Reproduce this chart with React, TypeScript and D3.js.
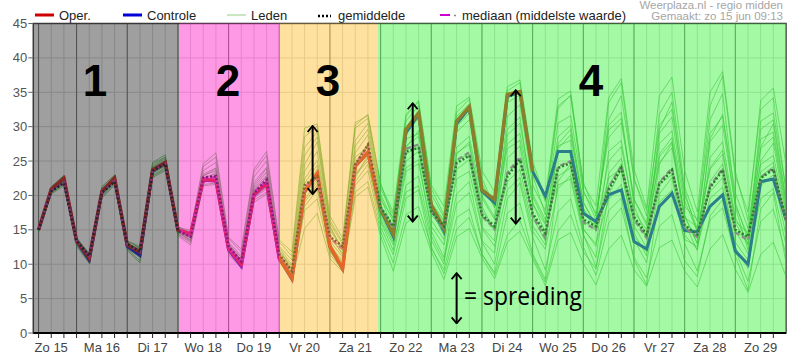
import * as d3 from "d3";

// forecast hours after Sun 15 Jun 00:00, one point every 6 hours
const hours = d3.range(6, 361, 6);

const oper = [
  15.0, 20.9, 22.5, 13.4, 10.9, 20.6, 22.5, 12.8, 11.8, 23.7, 24.8,
  15.0, 14.4, 22.3, 22.2, 12.3, 10.0, 20.1, 21.8, 10.9,
  8.0, 20.6, 23.2, 12.6, 9.4, 24.3, 26.3, 18.0,
  14.4, 29.6, 32.0, 18.6, 15.2, 30.8, 32.9, 20.8, 19.4, 34.7, 35.1, 23.5,
];

const controle = [
  15.0, 20.8, 22.4, 13.3, 10.6, 20.5, 22.4, 12.6, 11.3, 23.6, 24.7,
  15.0, 14.3, 22.2, 22.1, 12.1, 9.7, 20.0, 21.7, 10.8,
  7.8, 20.5, 23.1, 12.5, 9.3, 24.2, 26.2, 17.9,
  14.0, 29.1, 31.8, 18.4, 14.8, 30.4, 32.7, 20.6, 18.9, 34.4, 35.0, 23.5,
  19.9, 26.4, 26.4, 17.4, 16.2, 20.1, 20.8, 13.3, 12.2, 18.4, 20.3, 14.9,
  14.7, 18.4, 20.1, 11.9, 10.0, 22.0, 22.4, 16.5,
];

const gemiddelde = [
  15.0, 20.6, 21.8, 13.4, 11.2, 20.4, 22.0, 13.0, 11.8, 23.6, 24.6,
  14.9, 14.0, 22.6, 22.8, 12.6, 10.4, 20.3, 22.3, 11.4,
  9.0, 21.5, 22.8, 14.0, 12.6, 24.5, 27.4, 18.3,
  15.5, 26.4, 26.9, 17.7, 15.5, 24.7, 25.8, 17.2, 15.5, 22.8, 25.2, 17.4,
  14.5, 24.0, 24.7, 16.5, 15.5, 20.8, 24.0, 16.9, 14.3, 21.6, 23.7, 15.7,
  14.3, 21.1, 23.7, 15.0, 14.0, 22.5, 23.8, 16.5,
];

const mediaan = [
  15.0, 20.7, 21.9, 13.4, 11.1, 20.5, 22.1, 12.9, 11.8, 23.6, 24.6,
  14.9, 14.1, 22.5, 22.7, 12.5, 10.3, 20.4, 22.2, 11.3,
  8.9, 21.3, 22.6, 13.8, 12.2, 24.4, 27.2, 18.2,
  15.3, 26.8, 27.4, 17.6, 15.0, 25.1, 26.3, 17.0, 15.1, 23.3, 25.6, 17.0,
  13.8, 24.2, 25.0, 16.1, 15.0, 21.2, 24.3, 16.5, 13.8, 21.9, 24.0, 15.3,
  13.9, 21.4, 23.9, 14.6, 13.5, 22.6, 24.0, 16.2,
];

const leden = [
  [15.1, 20.7, 22.3, 13.6, 11.2, 20.9, 22.8, 13.1, 12.0, 23.9, 25.1, 14.8, 14.0, 23.1, 24.0, 13.0, 10.6, 21.5, 23.9, 12.1, 9.2, 24.5, 27.8, 15.3, 12.1, 28.0, 30.5, 20.2, 16.1, 31.5, 33.8, 21.0, 17.2, 32.1, 34.0, 22.5, 18.3, 35.2, 36.4, 24.0, 19.1, 33.0, 34.5, 20.8, 16.4, 30.2, 32.1, 18.5, 14.0, 29.5, 33.6, 20.0, 15.2, 31.0, 34.8, 19.0, 13.5, 30.8, 32.0, 21.0],
  [14.9, 20.5, 22.0, 13.2, 10.6, 20.2, 22.1, 12.5, 11.5, 23.2, 24.4, 14.6, 13.5, 21.8, 22.6, 11.9, 9.8, 19.6, 21.0, 10.8, 8.3, 19.0, 21.5, 11.8, 9.6, 22.0, 24.5, 16.2, 12.0, 21.5, 22.8, 14.1, 10.5, 18.8, 20.4, 13.2, 10.0, 19.5, 21.8, 14.0, 9.2, 17.6, 19.5, 12.5, 8.4, 16.0, 18.2, 11.0, 8.0, 15.5, 17.2, 10.5, 8.2, 17.0, 19.4, 12.0, 7.5, 16.2, 18.0, 11.5],
  [15.0, 21.0, 22.6, 13.5, 11.0, 20.5, 22.4, 12.9, 11.9, 23.8, 24.9, 15.2, 14.1, 22.6, 23.1, 12.8, 10.3, 20.8, 22.6, 11.5, 9.0, 21.2, 23.0, 13.9, 11.6, 24.8, 27.5, 18.4, 15.5, 26.0, 27.1, 17.2, 15.0, 25.2, 26.0, 17.0, 15.1, 23.0, 25.4, 17.2, 14.2, 24.1, 25.0, 16.3, 15.0, 21.4, 24.6, 16.5, 14.0, 22.0, 23.9, 15.5, 14.1, 21.0, 24.0, 14.6, 13.8, 22.8, 24.2, 16.0],
  [15.2, 21.2, 22.9, 13.8, 11.5, 21.3, 22.9, 13.3, 12.4, 24.6, 25.6, 15.3, 14.7, 24.2, 25.6, 13.7, 11.8, 23.4, 25.8, 13.2, 11.2, 28.5, 30.1, 16.4, 13.2, 29.8, 31.2, 21.0, 17.2, 30.8, 33.1, 20.2, 16.8, 31.5, 33.3, 21.8, 18.2, 27.5, 29.0, 19.8, 16.0, 28.5, 30.2, 19.0, 15.5, 33.5, 36.4, 22.5, 17.0, 26.0, 28.4, 17.1, 13.0, 27.8, 30.2, 18.6, 14.1, 26.8, 28.5, 18.2],
  [14.8, 20.4, 21.6, 12.8, 10.3, 19.8, 21.7, 12.2, 10.5, 22.8, 23.8, 14.3, 13.1, 21.6, 21.8, 11.7, 9.6, 19.3, 20.5, 10.6, 8.0, 17.8, 19.5, 11.4, 9.2, 20.5, 22.0, 14.8, 10.2, 17.2, 18.4, 12.6, 8.6, 15.1, 16.8, 11.5, 8.4, 14.2, 16.4, 11.2, 7.4, 14.8, 17.2, 11.8, 9.3, 20.1, 23.8, 14.6, 11.2, 24.5, 27.6, 17.0, 13.0, 28.2, 31.8, 18.3, 12.1, 27.0, 30.4, 19.1],
  [15.0, 20.8, 22.2, 13.3, 11.4, 20.6, 22.2, 12.6, 11.2, 23.3, 24.5, 14.9, 13.8, 22.9, 23.6, 12.4, 10.8, 21.9, 24.1, 11.9, 9.7, 22.4, 25.1, 14.9, 12.5, 26.2, 28.8, 19.3, 16.8, 28.2, 29.0, 18.8, 16.1, 27.0, 28.6, 19.6, 16.5, 26.8, 28.0, 18.7, 15.8, 27.2, 28.0, 17.5, 15.4, 25.0, 27.1, 17.6, 15.0, 24.8, 26.9, 16.8, 15.4, 24.0, 26.6, 16.2, 14.6, 24.5, 25.8, 17.3],
  [15.1, 21.1, 22.7, 13.7, 11.6, 21.0, 22.6, 13.0, 12.2, 24.1, 25.3, 15.5, 14.5, 23.6, 24.8, 13.2, 11.2, 22.7, 25.0, 12.6, 10.6, 27.0, 29.2, 16.0, 12.9, 30.2, 31.8, 21.5, 17.6, 31.8, 33.6, 21.5, 18.4, 33.0, 34.3, 23.6, 20.5, 35.8, 36.8, 25.0, 19.5, 34.0, 35.2, 21.5, 18.5, 34.2, 37.0, 23.8, 18.2, 34.5, 37.2, 23.6, 17.6, 35.0, 38.0, 23.5, 16.4, 33.8, 35.6, 24.5],
  [14.7, 20.2, 21.4, 12.6, 10.1, 19.6, 21.5, 12.0, 10.2, 22.6, 23.6, 14.1, 12.8, 21.4, 21.6, 11.4, 9.4, 19.0, 20.2, 10.4, 7.8, 15.2, 17.4, 10.8, 8.9, 19.8, 21.2, 14.1, 9.0, 16.0, 17.2, 11.8, 7.8, 14.0, 15.2, 10.9, 7.9, 13.2, 14.8, 10.8, 6.9, 13.5, 14.6, 10.1, 7.0, 12.2, 14.2, 9.2, 6.8, 12.4, 13.5, 9.0, 6.7, 12.2, 14.3, 9.3, 5.9, 11.4, 13.2, 8.2],
  [15.0, 20.9, 22.4, 13.4, 10.8, 20.7, 22.6, 12.9, 11.6, 23.6, 24.7, 15.1, 14.3, 22.4, 22.5, 12.4, 10.2, 20.4, 22.2, 11.2, 8.4, 21.0, 23.8, 13.0, 10.2, 25.6, 27.0, 18.2, 14.6, 29.0, 31.2, 18.2, 15.0, 30.0, 32.0, 20.5, 19.0, 33.5, 34.6, 23.0, 17.2, 30.5, 31.6, 20.5, 17.4, 28.4, 30.6, 19.5, 16.0, 27.5, 29.4, 18.4, 16.5, 29.0, 31.5, 20.4, 15.2, 28.2, 29.2, 18.8],
  [14.9, 20.6, 22.1, 13.1, 10.9, 20.3, 22.0, 12.7, 11.6, 23.4, 24.2, 14.7, 13.6, 22.0, 22.4, 12.1, 10.1, 20.0, 21.4, 11.0, 8.6, 19.4, 22.0, 12.4, 10.6, 23.1, 25.4, 17.0, 13.2, 23.5, 24.6, 15.5, 12.8, 22.4, 23.5, 15.2, 12.6, 20.8, 22.6, 14.8, 12.2, 21.0, 22.9, 15.0, 13.0, 19.4, 21.6, 14.0, 11.8, 19.0, 20.8, 13.6, 12.6, 19.6, 21.2, 13.2, 10.6, 19.5, 21.0, 12.8],
  [15.0, 20.8, 22.5, 13.5, 11.1, 20.8, 22.7, 13.1, 11.9, 24.0, 25.0, 15.0, 14.2, 22.8, 23.9, 12.9, 11.0, 21.2, 23.4, 11.7, 9.4, 23.5, 26.4, 14.4, 11.3, 27.2, 29.6, 19.8, 15.0, 24.0, 25.2, 14.8, 11.0, 20.2, 22.0, 13.4, 11.6, 25.4, 27.2, 16.8, 13.4, 26.8, 28.8, 19.0, 15.8, 31.0, 34.5, 22.4, 17.8, 30.2, 32.5, 20.6, 14.6, 23.8, 26.0, 16.0, 12.8, 25.0, 27.6, 17.6],
  [15.1, 20.6, 22.3, 13.2, 11.3, 20.1, 21.9, 12.5, 12.5, 24.3, 25.5, 14.6, 13.9, 22.2, 23.4, 12.7, 10.5, 21.0, 22.9, 12.4, 9.9, 25.8, 28.5, 15.6, 12.0, 23.0, 25.0, 16.5, 12.8, 20.5, 21.4, 13.5, 10.0, 23.8, 25.2, 15.4, 13.4, 28.8, 30.5, 20.2, 16.5, 21.5, 22.4, 14.2, 11.0, 23.2, 25.4, 15.6, 12.4, 29.0, 31.4, 19.2, 14.8, 20.5, 22.6, 12.4, 9.4, 21.4, 23.0, 14.2],
  [14.9, 20.3, 21.9, 13.0, 10.5, 20.0, 21.8, 12.3, 11.0, 23.0, 24.0, 14.4, 13.3, 21.9, 22.8, 12.0, 9.7, 19.8, 21.2, 10.7, 8.1, 18.4, 20.8, 12.0, 9.0, 21.5, 23.6, 15.4, 11.4, 19.6, 20.8, 12.2, 9.2, 16.8, 18.0, 11.4, 8.8, 17.4, 18.9, 11.5, 7.8, 22.0, 24.6, 14.4, 9.6, 17.8, 19.6, 10.6, 7.0, 20.2, 22.6, 13.0, 9.0, 16.4, 18.2, 11.2, 6.2, 18.0, 20.4, 10.2],
  [15.2, 21.3, 22.9, 13.9, 11.4, 21.2, 23.0, 13.4, 12.6, 24.8, 25.9, 15.4, 14.9, 24.6, 26.2, 13.9, 12.2, 23.8, 26.4, 13.5, 11.8, 29.8, 30.4, 17.0, 13.8, 30.6, 31.6, 21.8, 16.4, 27.2, 28.6, 17.8, 14.2, 26.0, 27.8, 18.4, 14.8, 31.5, 33.2, 21.5, 17.8, 32.6, 34.6, 22.0, 17.0, 29.5, 31.2, 19.4, 15.6, 31.8, 35.0, 21.2, 16.2, 33.0, 37.4, 22.8, 17.6, 32.5, 34.2, 20.5],
  [14.8, 20.5, 22.0, 13.1, 10.4, 20.4, 22.3, 12.7, 11.4, 23.5, 24.5, 14.7, 13.4, 22.1, 22.9, 12.2, 10.1, 20.6, 22.7, 11.3, 8.6, 20.2, 22.3, 13.4, 11.0, 22.6, 25.8, 17.6, 14.0, 27.0, 29.4, 19.0, 16.4, 29.2, 31.0, 20.0, 16.8, 29.6, 31.4, 19.0, 14.6, 22.8, 24.0, 15.2, 12.6, 26.4, 28.0, 17.0, 13.8, 25.6, 27.8, 16.0, 12.0, 25.5, 27.8, 16.8, 13.0, 29.6, 31.0, 19.6],
  [15.0, 21.0, 22.6, 13.4, 11.0, 20.8, 22.5, 12.8, 11.8, 23.8, 24.8, 15.0, 14.4, 22.4, 22.3, 12.3, 10.0, 20.2, 21.9, 11.0, 8.2, 21.8, 24.4, 12.4, 9.8, 24.0, 26.0, 17.8, 14.2, 25.0, 26.4, 16.4, 13.6, 26.2, 27.4, 17.8, 15.0, 22.0, 23.8, 15.6, 12.8, 27.5, 29.6, 18.2, 14.8, 22.6, 23.8, 13.6, 10.2, 21.6, 23.0, 14.2, 12.2, 22.0, 24.6, 15.0, 11.5, 23.4, 24.8, 15.6],
];

const dayLabels = ["Zo 15", "Ma 16", "Di 17", "Wo 18", "Do 19", "Vr 20", "Za 21", "Zo 22", "Ma 23", "Di 24", "Wo 25", "Do 26", "Vr 27", "Za 28", "Zo 29"];
const yTicks = [0, 5, 10, 15, 20, 25, 30, 35, 40, 45];

// hand drawn coloured periods laid over the chart
const periods = [
  { label: "1", from: 3.5, to: 72.7, color: "#474747" },
  { label: "2", from: 72.7, to: 120, color: "#fe3ece" },
  { label: "3", from: 120, to: 166.8, color: "#fec447" },
  { label: "4", from: 166.8, to: 360, color: "#51f451" },
];
const periodLabelX = [95, 228, 328, 591];

// spread arrows: hour, low, high
const arrows = [
  { t: 135.8, lo: 20.2, hi: 30.1 },
  { t: 183.2, lo: 16.2, hi: 33.4 },
  { t: 232.0, lo: 15.9, hi: 35.3 },
  { t: 204.0, lo: 1.4, hi: 8.7 },
];

const W = 800;
const H = 361;
const left = 33.3;
const right = 786;
const top = 23.5;
const bottom = 333;

export default function App() {
  const x = d3.scaleLinear().domain([3.5, 360]).range([left, right]);
  const y = d3.scaleLinear().domain([0, 45]).range([bottom, top]);

  const line = d3
    .line<number | null>()
    .defined((d) => d != null)
    .x((_, i) => x(hours[i]))
    .y((d) => y(d as number));

  const minorHours = d3.range(6, 360, 6);
  const dayHours = [6, ...d3.range(24, 360, 24)];
  const font = "'Liberation Sans', Arial, sans-serif";

  return (
    <svg width={W} height={H} style={{ position: "absolute", left: 0, top: 0 }}>
      <defs>
        <marker id="head" viewBox="0 0 12 12" refX="11" refY="6" markerWidth="12" markerHeight="12" markerUnits="userSpaceOnUse" orient="auto-start-reverse">
          <path d="M5,1 L11,6 L5,11" fill="none" stroke="#000" strokeWidth="1.8" />
        </marker>
        <clipPath id="plot">
          <rect x={left} y={top} width={right - left} height={bottom - top} />
        </clipPath>
      </defs>
      <rect width={W} height={H} fill="#fff" />

      {/* grid */}
      {yTicks.map((v) => (
        <line key={"h" + v} x1={left} x2={right} y1={y(v)} y2={y(v)} stroke="#cfcfcf" />
      ))}
      {minorHours.map((h) => (
        <line key={"v" + h} x1={x(h)} x2={x(h)} y1={top} y2={bottom} stroke="#cfcfcf" />
      ))}
      {dayHours.map((h) => (
        <line key={"d" + h} x1={x(h)} x2={x(h)} y1={top} y2={bottom} stroke="#5a5a5a" />
      ))}
      <rect x={left} y={top} width={right - left} height={bottom - top} fill="none" stroke="#333" strokeWidth={1.5} />

      {/* ensemble */}
      <g clipPath="url(#plot)" fill="none">
        {leden.map((m, i) => (
          <path key={i} d={line(m) ?? ""} stroke="#1f9a1f" strokeOpacity={0.6} strokeWidth={1} />
        ))}
        <path d={line(controle) ?? ""} stroke="#0000c8" strokeWidth={3} />
        <path d={line(oper) ?? ""} stroke="#cc0000" strokeWidth={3.5} />
        <path d={line(mediaan) ?? ""} stroke="#c020c0" strokeWidth={2.2} strokeDasharray="5,3" />
        <path d={line(gemiddelde) ?? ""} stroke="#000" strokeWidth={2.5} strokeDasharray="2,2" />
      </g>

      {/* coloured periods */}
      {periods.map((p) => (
        <rect key={p.label} x={x(p.from)} y={top} width={x(p.to) - x(p.from)} height={bottom - top} fill={p.color} fillOpacity={0.52} />
      ))}

      {/* axes */}
      <line x1={left} x2={right} y1={bottom} y2={bottom} stroke="#000" strokeWidth={2} />
      {minorHours.map((h) => (
        <line key={"t" + h} x1={x(h)} x2={x(h)} y1={bottom} y2={bottom + 5} stroke="#222" />
      ))}
      {dayLabels.map((l, i) => (
        <text key={l} x={x(i * 24 + 12)} y={352} textAnchor="middle" fontFamily={font} fontSize={13} fill="#444">
          {l}
        </text>
      ))}
      {yTicks.map((v) => (
        <g key={"y" + v}>
          <line x1={left - 5} x2={left} y1={y(v)} y2={y(v)} stroke="#666" />
          <text x={left - 6} y={y(v) + 4.5} textAnchor="end" fontFamily={font} fontSize={13} fill="#555">
            {v}
          </text>
        </g>
      ))}

      {/* legend */}
      <g fontFamily={font} fontSize={13} fill="#222">
        <line x1={35} x2={54} y1={15} y2={15} stroke="#d00000" strokeWidth={3} />
        <text x={59} y={20}>Oper.</text>
        <line x1={123} x2={142} y1={15} y2={15} stroke="#0000d8" strokeWidth={3} />
        <text x={147} y={20}>Controle</text>
        <line x1={227} x2={246} y1={15} y2={15} stroke="#c8e6c0" strokeWidth={2} />
        <text x={251} y={20}>Leden</text>
        <line x1={318} x2={331} y1={16} y2={16} stroke="#000" strokeWidth={2.5} strokeDasharray="2,2" />
        <text x={338} y={20}>gemiddelde</text>
        <line x1={440} x2={450} y1={15} y2={15} stroke="#d000d0" strokeWidth={2} />
        <line x1={454} x2={456} y1={15.5} y2={15.5} stroke="#888" strokeWidth={1.5} />
        <text x={462} y={20}>mediaan (middelste waarde)</text>
      </g>
      <g fontFamily={font} fontSize={11.5} fill="#a6a6a6" textAnchor="end">
        <text x={783} y={9}>Weerplaza.nl - regio midden</text>
        <text x={783} y={20}>Gemaakt: zo 15 jun 09:13</text>
      </g>

      {/* annotations */}
      {periods.map((p, i) => (
        <text key={"n" + p.label} x={periodLabelX[i]} y={96} textAnchor="middle" fontFamily={font} fontWeight="bold" fontSize={44} fill="#000">
          {p.label}
        </text>
      ))}
      {arrows.map((a, i) => (
        <line key={"a" + i} x1={x(a.t)} x2={x(a.t)} y1={y(a.hi)} y2={y(a.lo)} stroke="#000" strokeWidth={2} markerStart="url(#head)" markerEnd="url(#head)" />
      ))}
      <text x={464} y={305} fontFamily="'Open Sans', sans-serif" fontSize={26} fill="#000" textLength={118} lengthAdjust="spacingAndGlyphs">
        = spreiding
      </text>
    </svg>
  );
}
